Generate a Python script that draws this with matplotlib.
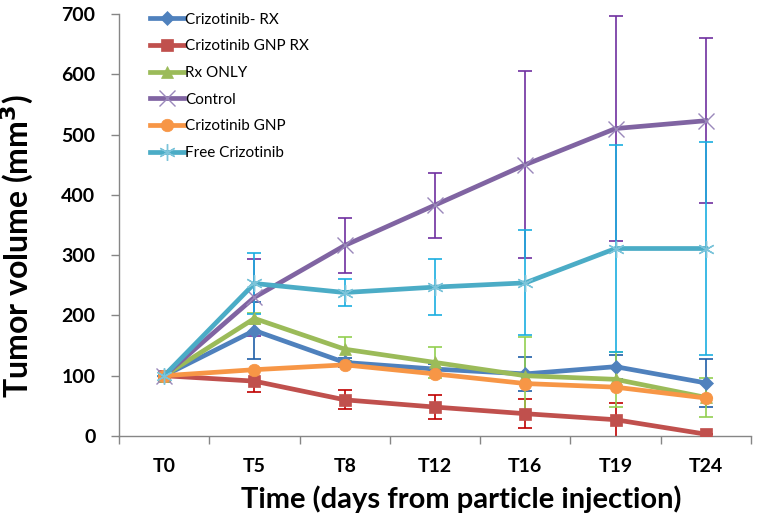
import matplotlib
matplotlib.use("Agg")
import matplotlib.pyplot as plt
import numpy as np

plt.rcParams['font.family'] = ['Lato', 'DejaVu Sans']

categories = ["T0", "T5", "T8", "T12", "T16", "T19", "T24"]

series_names = ["Crizotinib- RX", "Crizotinib GNP RX", "Rx ONLY", "Control",
                "Crizotinib GNP", "Free Crizotinib"]

criz_rx = [100, 175, 122, 111, 103, 115, 88]
criz_rx_err = [0, 48, 8, 8, 28, 20, 40]

criz_gnp_rx = [100, 91, 60, 48, 37, 27, 3]
criz_gnp_rx_err = [0, 18, 16, 20, 24, 28, 0]

rx_only = [100, 195, 144, 122, 100, 94, 64]
rx_only_err = [0, 9, 20, 26, 64, 46, 32]

control = [100, 230, 316, 383, 450, 510, 523]
control_err = [0, 64, 46, 54, 155, 187, 137]

criz_gnp = [100, 110, 118, 103, 87, 81, 63]
criz_gnp_err = [0, 0, 0, 0, 0, 0, 0]

free_criz = [100, 253, 238, 247, 254, 311, 311]
free_criz_err = [0, 50, 22, 47, 87, 172, 176]

yticks = [0, 100, 200, 300, 400, 500, 600, 700]

data = [criz_rx, criz_gnp_rx, rx_only, control, criz_gnp, free_criz]
errs = [criz_rx_err, criz_gnp_rx_err, rx_only_err, control_err, criz_gnp_err, free_criz_err]
line_colors = ["#4F81BD", "#C0504D", "#9BBB59", "#8064A2", "#F79646", "#4BACC6"]
err_colors = ["#1F5FA8", "#C00000", "#92D050", "#7030A0", "#F79646", "#1AAEE0"]
markers = ["D", "s", "^", "x", "o", (6, 2, 0)]
msizes = [7, 9, 8, 12, 9, 12]

fig = plt.figure(figsize=(7.57, 5.21), dpi=100)
ax = fig.add_axes([119/757, 1-436/521, (751-119)/757, (436-14)/521])

x = np.arange(len(categories))
for i in range(len(data)):
    ax.errorbar(x, data[i], yerr=errs[i], fmt='none', ecolor=err_colors[i],
                elinewidth=1.2, capsize=5, capthick=1.2, zorder=2)
for i in range(len(data)):
    mk = markers[i]
    thin = mk in ("x",) or isinstance(mk, tuple)
    ax.plot(x, data[i], color=line_colors[i], lw=3.4, marker=mk,
            markersize=msizes[i],
            markeredgewidth=1.0 if thin else 0.5,
            markeredgecolor=("#9a88bb" if mk == "x" else ("#7cc4da" if thin else line_colors[i])),
            markerfacecolor=line_colors[i], label=series_names[i], zorder=3)

ax.set_xlim(-0.5, len(categories) - 0.5)
ax.set_ylim(0, 700)
ax.set_yticks(yticks)
ax.set_yticklabels([str(v) for v in yticks], fontsize=14, fontweight='bold')
ax.set_xticks(x)
ax.set_xticklabels(categories, fontsize=14, fontweight='bold')
ax.tick_params(axis='x', which='major', length=0, pad=16)
ax.set_xticks(np.arange(-0.5, len(categories) + 0.5, 1), minor=True)
ax.tick_params(axis='x', which='minor', length=6, color='#868686', width=1)
ax.tick_params(axis='y', length=6, color='#868686', width=1, pad=11)

for s in ['top', 'right']:
    ax.spines[s].set_visible(False)
for s in ['left', 'bottom']:
    ax.spines[s].set_color('#868686')
    ax.spines[s].set_linewidth(1)

ax.set_xlabel("Time (days from particle injection)", fontsize=21, fontweight='bold')
ax.set_ylabel(r"Tumor volume (mm$^\mathbf{3}$)", fontsize=23, fontweight='bold')
ax.xaxis.set_label_coords(0.541, -0.118)
ax.yaxis.set_label_coords(-0.131, 0.45)

leg = ax.legend(loc='upper left', bbox_to_anchor=(0.035, 1.025), frameon=False,
                fontsize=11, handlelength=2.2, handletextpad=0.1, labelspacing=0.83,
                borderaxespad=0.2)

fig.savefig("out.png", dpi=100)
